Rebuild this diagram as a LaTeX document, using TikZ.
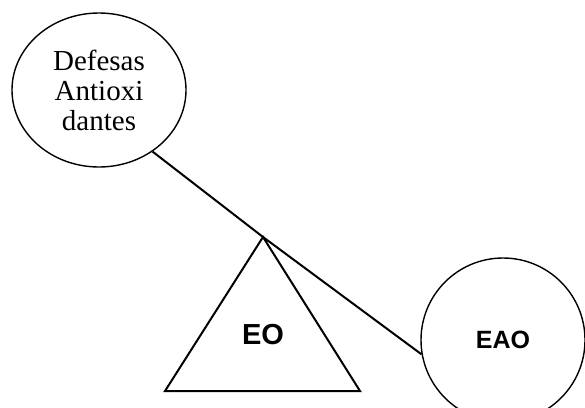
\documentclass[tikz,border=0pt]{standalone}
\usepackage{fontspec}
\setmainfont{Liberation Serif}
\newfontfamily\arialfont{Liberation Sans}
\usetikzlibrary{shapes.geometric}
\tikzset{
    bubble/.style={draw, ellipse, line width=1.4pt, inner sep=0pt},
    beam/.style={line width=2pt},
}
\begin{document}
\begin{tikzpicture}[x=1pt,y=-1pt]
        \useasboundingbox (0,0) rectangle (585,407);

        \node[bubble, minimum width=174pt, minimum height=154pt, align=center,
            font=\fontsize{29}{30}\selectfont] (defesas) at (99,90) {Defesas\\Antioxi\\dantes};
        \node[bubble, minimum width=164pt, minimum height=164pt,
            font=\arialfont\bfseries\fontsize{25}{28}\selectfont] (eao) at (503,340) {EAO};

        \coordinate (apex) at (263,237);
        \coordinate (baseL) at (165,391);
        \coordinate (baseR) at (360,391);
        \draw[beam] (baseL) to (apex) to (baseR) to cycle;
        \node[font=\arialfont\bfseries\fontsize{29}{32}\selectfont] (eo) at (263,335) {EO};

        \draw[beam] (defesas.-49) to (apex) to (eao.190);
\end{tikzpicture}
\end{document}
